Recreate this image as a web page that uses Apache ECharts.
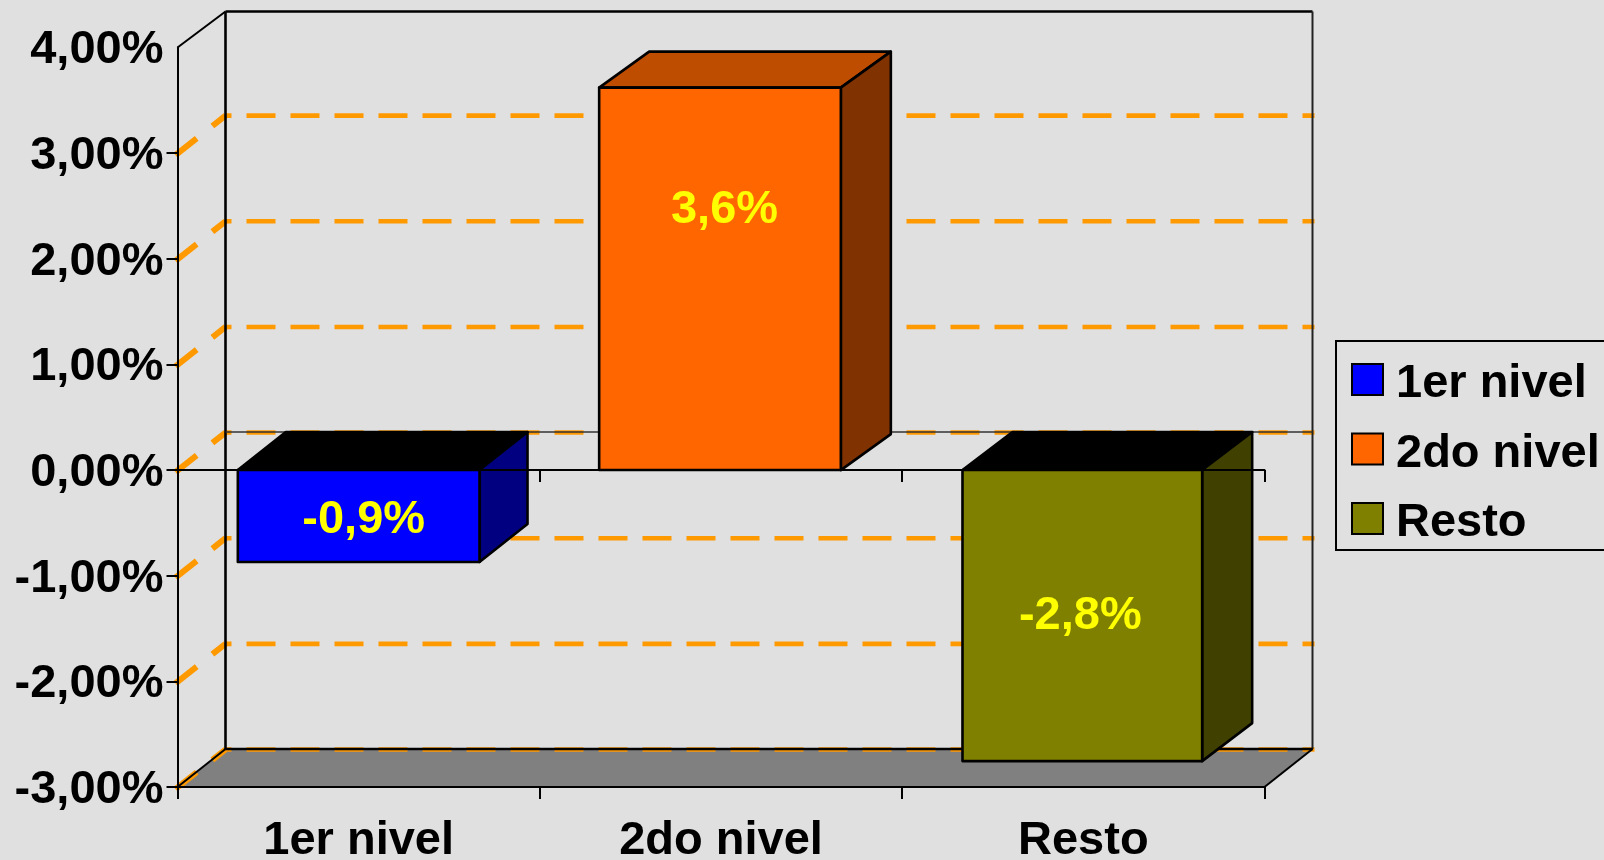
<!DOCTYPE html>
<html>
<head>
<meta charset="utf-8">
<style>html,body{margin:0;padding:0;background:#e0e0e0}#c{width:1604px;height:860px}</style>
<script src="https://cdn.jsdelivr.net/npm/echarts@6/dist/echarts.min.js"></script>
</head>
<body>
<div id="c"></div>
<script>
var categories = ['1er nivel', '2do nivel', 'Resto'];
var barValues = [-0.87, 3.62, -2.755];
var barLabels = ['-0,9%', '3,6%', '-2,8%'];
var labelLevels = [-0.47, 2.46, -1.38];
var yTicks = [-3, -2, -1, 0, 1, 2, 3];
var gridTicks = [-3, -2, -1, 0, 1, 2, 3];

var frontColors = ['#0000ff', '#ff6600', '#808000'];
var sideColors = ['#000080', '#803300', '#404000'];
var topColors = ['#bf4d00'];
var FONT = '"Liberation Sans", Arial, sans-serif';
var FS = 47;
var BAR_FRACTION = 0.667;
var DX = 48, DY = 38, GRID_DY = 37.5;
var labelNudge = [5, 3.5, -3];
var leftNudge = [0, -1, 0];
var rightNudge = [0, -1, -2];
var barDX = [48, 50, 50];
var barDY = [38, 36, 38];

var chart = echarts.init(document.getElementById('c'), null, {renderer: 'canvas'});

function wallItem(params, api) {
  var cs = params.coordSys;
  var L = cs.x, R = cs.x + cs.width;
  var y4 = api.coord([0, 4])[1], ym3 = api.coord([0, -3])[1];
  var blk = {stroke: '#000', lineWidth: 2, fill: null};
  var heavy = {stroke: '#000', lineWidth: 2.6, fill: null};
  return {type: 'group', children: [
    {type: 'polygon', z2: 1, shape: {points: [[L, ym3], [R, ym3], [R + DX, ym3 - DY], [L + DX, ym3 - DY]]},
      style: {fill: '#808080', stroke: null}},
    {type: 'line', z2: 5, shape: {x1: L, y1: y4, x2: L + DX, y2: y4 - 36}, style: blk},
    {type: 'line', z2: 5, shape: {x1: L + DX, y1: y4 - 36, x2: R + DX, y2: y4 - 36}, style: heavy},
    {type: 'line', z2: 5, shape: {x1: L + DX, y1: y4 - 36, x2: L + DX, y2: ym3 - DY}, style: heavy},
    {type: 'line', z2: 5, shape: {x1: R + DX, y1: y4 - 36, x2: R + DX, y2: ym3 - DY}, style: {stroke: '#222', lineWidth: 2}},
    {type: 'line', z2: 5, shape: {x1: L + DX, y1: ym3 - DY, x2: R + DX, y2: ym3 - DY}, style: heavy},
    {type: 'line', z2: 5, shape: {x1: L, y1: ym3, x2: L + DX, y2: ym3 - DY}, style: blk},
    {type: 'line', z2: 5, shape: {x1: R, y1: ym3, x2: R + DX, y2: ym3 - DY}, style: blk},
    {type: 'line', z2: 5, shape: {x1: L + DX, y1: api.coord([0, 0])[1] - 38, x2: R + DX, y2: api.coord([0, 0])[1] - 38},
      style: {stroke: '#333', lineWidth: 1.6}}
  ]};
}

function gridItem(params, api) {
  var cs = params.coordSys;
  var L = cs.x, R = cs.x + cs.width;
  var y = api.coord([0, api.value(0)])[1];
  return {type: 'group', children: [
    {type: 'line', z2: 3, shape: {x1: L + DX, y1: y - GRID_DY, x2: R + DX + 2, y2: y - GRID_DY},
      style: {stroke: '#ff9900', lineWidth: 4.6, lineDash: [29, 15], lineDashOffset: 23, fill: null}},
    {type: 'line', z2: 3, shape: {x1: L - 2, y1: y + 2, x2: L + DX, y2: y - GRID_DY},
      style: {stroke: '#ff9900', lineWidth: 6, lineDash: [27, 20], fill: null}}
  ]};
}

function barItem(idx) {
  return function (params, api) {
    var c = api.value(0), v = api.value(1);
    var cx = api.coord([c, 0])[0];
    var y0 = api.coord([c, 0])[1], y1 = api.coord([c, v])[1];
    var w = api.size([1, 0])[0] * BAR_FRACTION;
    var xa = cx - w / 2 + leftNudge[idx], xb = cx + w / 2 + rightNudge[idx];
    var dx = barDX[idx], dy = barDY[idx];
    var yTop = Math.min(y0, y1), yBot = Math.max(y0, y1);
    var ln = {stroke: '#000', lineWidth: 2.6, lineJoin: 'round'};
    var topFill = v < 0 ? '#000000' : topColors[0];
    return {type: 'group', children: [
      {type: 'polygon', shape: {points: [[xa, yTop], [xb, yTop], [xb + dx, yTop - dy], [xa + dx, yTop - dy]]},
        style: Object.assign({fill: topFill}, ln)},
      {type: 'polygon', shape: {points: [[xb, yTop], [xb + dx, yTop - dy], [xb + dx, yBot - dy], [xb, yBot]]},
        style: Object.assign({fill: sideColors[idx]}, ln)},
      {type: 'polygon', shape: {points: [[xa, yTop], [xb, yTop], [xb, yBot], [xa, yBot]]},
        style: Object.assign({fill: frontColors[idx]}, ln)},
      {type: 'text', z2: 20, style: {
        text: barLabels[idx], x: cx + labelNudge[idx], y: api.coord([c, labelLevels[idx]])[1],
        fill: '#ffff00', font: 'bold ' + FS + 'px ' + FONT, align: 'center', verticalAlign: 'middle'}}
    ]};
  };
}

var series = [
  {type: 'custom', name: 'walls', z: 1, silent: true, clip: false, renderItem: wallItem, data: [[0]], encode: {x: -1, y: -1}},
  {type: 'custom', name: 'gridlines', z: 1, silent: true, clip: false, renderItem: gridItem,
    data: gridTicks.map(function (t) { return [t]; }), encode: {x: -1, y: 0}}
];
categories.forEach(function (name, i) {
  series.push({
    type: 'custom', name: name, z: 5, silent: true, clip: false,
    itemStyle: {color: frontColors[i]},
    renderItem: barItem(i),
    encode: {x: 0, y: 1},
    data: [[i, barValues[i]]]
  });
});

var axisLineStyle = {color: '#000', width: 2};
var labelFont = {fontSize: FS, fontWeight: 'bold', color: '#000', fontFamily: FONT};
chart.setOption({
  animation: false,
  backgroundColor: '#e0e0e0',
  textStyle: {fontFamily: FONT},
  grid: {left: 177.5, top: 47.5, width: 1087, height: 739.5, containLabel: false, outerBoundsMode: 'none'},
  legend: {
    data: categories,
    orient: 'vertical',
    left: 1336,
    top: 341,
    icon: 'rect',
    itemWidth: 31,
    itemHeight: 31,
    itemGap: 22.5,
    padding: [20, 20, 3, 15],
    borderColor: '#000',
    borderWidth: 2,
    selectedMode: false,
    itemStyle: {borderColor: '#000', borderWidth: 2},
    formatter: '{a|{name}}',
    textStyle: {rich: {a: Object.assign({padding: [10, 0, 0, 8]}, labelFont)}}
  },
  xAxis: [
    {type: 'category', data: categories, position: 'bottom', z: 10,
      axisLine: {onZero: false, lineStyle: axisLineStyle},
      axisTick: {show: true, alignWithLabel: false, interval: 0, length: 12, lineStyle: {color: '#000', width: 2}},
      splitLine: {show: false},
      axisLabel: Object.assign({margin: 31}, labelFont)},
    {type: 'category', data: categories, position: 'bottom', z: 10,
      axisLine: {onZero: true, lineStyle: axisLineStyle},
      axisTick: {show: true, alignWithLabel: false, interval: 0, length: 12, lineStyle: {color: '#000', width: 2}},
      axisLabel: {show: false}, splitLine: {show: false}}
  ],
  yAxis: {
    type: 'value', min: -3, max: 4, interval: 1, z: 10,
    axisLine: {show: true, onZero: false, lineStyle: {color: '#000', width: 2}},
    axisTick: {show: true, length: 11, customValues: yTicks, lineStyle: {color: '#000', width: 2}},
    splitLine: {show: false},
    axisLabel: {
      margin: 14,
      rich: {a: Object.assign({padding: [6, 0, 0, 0]}, labelFont)},
      formatter: function (v) { return '{a|' + v.toFixed(2).replace('.', ',') + '%}'; }
    }
  },
  series: series
});
</script>
</body>
</html>
